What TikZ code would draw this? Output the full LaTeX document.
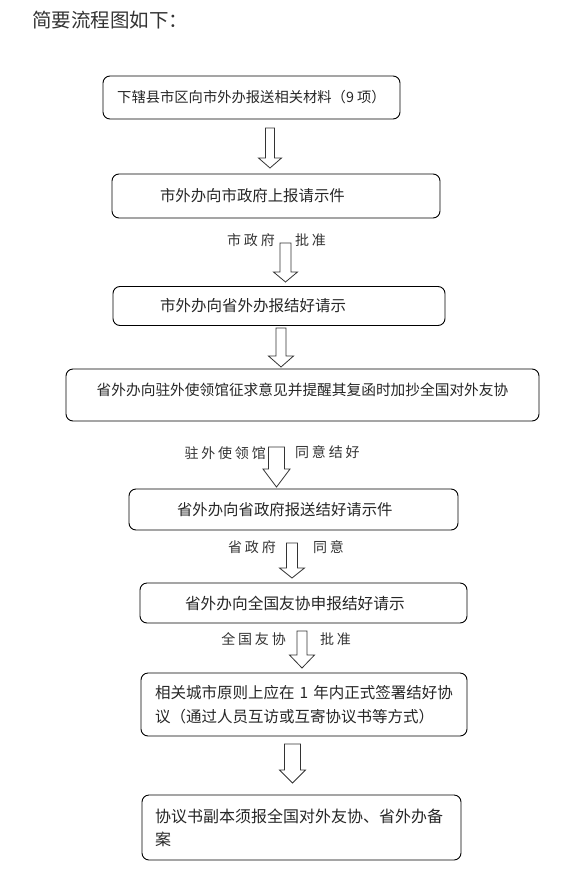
\documentclass[tikz,border=0pt]{standalone}
\usepackage{fontspec}
\setmainfont{Noto Sans CJK SC}
\newfontfamily\labelfont[LetterSpace=20]{Noto Sans CJK SC}

% hollow block arrow: start, length, shaft half width, head half width, head length
\newcommand{\hollowarrow}[5]{%
  \draw[arrowline] (#1) ++(-#3,0) -- ++(0,#2-#5) -- ++(#3-#4,0) -- ++(#4,#5)
    -- ++(#4,-#5) -- ++(#3-#4,0) -- ++(0,-#2+#5) -- cycle;}

\begin{document}
\begin{tikzpicture}[x=1pt,y=-1pt,
    flowbox/.style={draw, rounded corners=7pt, line width=0.9pt, inner sep=0pt, text=black!85},
    leftbox/.style={flowbox, align=left},
    flowlabel/.style={inner sep=0pt, text=black!80, font=\labelfont\fontsize{14}{16}\selectfont},
    arrowline/.style={draw=black!80, line width=0.8pt, line join=miter}]
    \useasboundingbox (0,0) rectangle (574,889);

    \node[anchor=west, inner sep=0pt, text=black!80, font=\fontsize{19.5}{20}\selectfont] (titleNode) at (32,20) {简要流程图如下：};

    \node[flowbox, minimum width=297pt, minimum height=43pt, font=\fontsize{14.3}{24}\selectfont] (materialNode) at (251.5,97.5) {下辖县市区向市外办报送相关材料（9 项）};
    \node[leftbox, minimum width=328pt, minimum height=44pt, text width=232pt, font=\fontsize{15.4}{24}\selectfont] (cityRequestNode) at (276,196) {市外办向市政府上报请示件};
    \node[leftbox, minimum width=332pt, minimum height=39pt, text width=238pt, font=\fontsize{15.5}{24}\selectfont] (provinceRequestNode) at (279,306) {市外办向省外办报结好请示};
    \node[flowbox, minimum width=473pt, minimum height=52pt, text depth=11.5pt, font=\fontsize{14.7}{24}\selectfont] (embassyNode) at (302.5,395) {省外办向驻外使领馆征求意见并提醒其复函时加抄全国对外友协};
    \node[leftbox, minimum width=329pt, minimum height=41pt, text width=233pt, font=\fontsize{15.4}{24}\selectfont] (provinceGovNode) at (293.5,509.5) {省外办向省政府报送结好请示件};
    \node[leftbox, minimum width=327pt, minimum height=40pt, text width=237pt, font=\fontsize{15.7}{24}\selectfont] (friendshipNode) at (303.5,603) {省外办向全国友协申报结好请示};
    \node[leftbox, minimum width=326pt, minimum height=63pt, text width=298pt, font=\fontsize{15.5}{24}\selectfont] (signingNode) at (304,704.5) {相关城市原则上应在 1 年内正式签署结好协\\议（通过人员互访或互寄协议书等方式）};
    \node[leftbox, minimum width=319pt, minimum height=65pt, text width=293pt, font=\fontsize{16}{23}\selectfont] (filingNode) at (301.5,827.5) {协议书副本须报全国对外友协、省外办备\\案};

    \coordinate (firstArrow) at (270,128);
    \coordinate (secondArrow) at (285.5,243);
    \coordinate (thirdArrow) at (281,328);
    \coordinate (fourthArrow) at (276.5,447);
    \coordinate (fifthArrow) at (292,543);
    \coordinate (sixthArrow) at (302,631);
    \coordinate (seventhArrow) at (292.5,744);

    \hollowarrow{firstArrow}{40}{4.5}{11.5}{10}
    \hollowarrow{secondArrow}{39}{5.5}{12}{10}
    \hollowarrow{thirdArrow}{39}{5}{12.5}{11}
    \hollowarrow{fourthArrow}{40}{8}{13.5}{18}
    \hollowarrow{fifthArrow}{35}{5.5}{12.5}{10}
    \hollowarrow{sixthArrow}{37}{5}{12.5}{13}
    \hollowarrow{seventhArrow}{39}{8}{13}{13}

    \node[flowlabel, anchor=east] (cityGovLabel) at (275,240) {市政府};
    \node[flowlabel, anchor=west] (cityApproveLabel) at (295,240) {批准};
    \node[flowlabel, anchor=east] (embassyLabel) at (266,453) {驻外使领馆};
    \node[flowlabel, anchor=west] (embassyAgreeLabel) at (295,452) {同意结好};
    \node[flowlabel, anchor=east] (provinceGovLabel) at (276,547) {省政府};
    \node[flowlabel, anchor=west] (provinceAgreeLabel) at (313,547) {同意};
    \node[flowlabel, anchor=east] (friendshipLabel) at (286,639) {全国友协};
    \node[flowlabel, anchor=west] (friendshipApproveLabel) at (320,639) {批准};

  \end{tikzpicture}
\end{document}
